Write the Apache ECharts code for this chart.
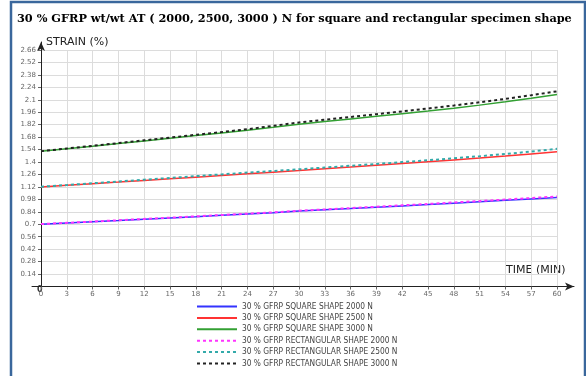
<!DOCTYPE html>
<html>
<head>
<meta charset="utf-8">
<script src="https://cdn.jsdelivr.net/npm/echarts@6/dist/echarts.min.js"></script>
<style>
html,body{margin:0;padding:0;background:#fff;}
#c{width:586px;height:376px;}
</style>
</head>
<body>
<div id="c"></div>
<script>
// time (min)
var times = [0,3,6,9,12,15,18,21,24,27,30,33,36,39,42,45,48,51,54,57,60];
// strain (%)
var sq2000 = [0.700,0.714,0.728,0.742,0.757,0.771,0.785,0.800,0.815,0.830,0.848,0.862,0.876,0.891,0.906,0.921,0.937,0.953,0.969,0.985,1.000];
var sq2500 = [1.120,1.138,1.156,1.174,1.193,1.211,1.230,1.248,1.267,1.286,1.305,1.325,1.344,1.364,1.384,1.404,1.424,1.444,1.467,1.491,1.515];
var sq3000 = [1.520,1.549,1.578,1.608,1.637,1.667,1.697,1.727,1.757,1.790,1.825,1.855,1.885,1.914,1.944,1.974,2.006,2.040,2.078,2.118,2.160];
var re2000 = [0.702,0.716,0.730,0.745,0.760,0.774,0.789,0.804,0.819,0.834,0.852,0.867,0.882,0.897,0.913,0.928,0.945,0.961,0.978,0.995,1.012];
var re2500 = [1.122,1.141,1.161,1.181,1.201,1.221,1.241,1.261,1.281,1.299,1.318,1.338,1.358,1.378,1.399,1.420,1.442,1.465,1.490,1.518,1.548];
var re3000 = [1.522,1.552,1.582,1.613,1.644,1.675,1.706,1.737,1.769,1.807,1.845,1.876,1.907,1.938,1.970,2.002,2.036,2.072,2.110,2.152,2.195];
var names = [
  '30 % GFRP SQUARE SHAPE 2000 N',
  '30 % GFRP SQUARE SHAPE 2500 N',
  '30 % GFRP SQUARE SHAPE 3000 N',
  '30 % GFRP RECTANGULAR SHAPE 2000 N',
  '30 % GFRP RECTANGULAR SHAPE 2500 N',
  '30 % GFRP RECTANGULAR SHAPE 3000 N'
];
var titleText = '30 % GFRP wt/wt AT ( 2000, 2500, 3000 ) N for square and rectangular specimen shape';

function pairs(v){ return times.map(function(t,i){ return [t, v[i]]; }); }
function mk(name, data, color, dashed){
  return {
    name: name, type: 'line', data: pairs(data), symbol: 'none', smooth: false,
    xAxisIndex: 0, yAxisIndex: 0,
    lineStyle: {color: color, width: dashed ? 2 : 1.5, type: dashed ? [3,3] : 'solid'},
    itemStyle: {color: color},
    z: dashed ? 3 : 2
  };
}
var chart = echarts.init(document.getElementById('c'), null, {renderer: 'canvas'});
var fmt = function(v){ return String(+v.toFixed(2)); };
chart.setOption({
  animation: false,
  backgroundColor: '#fff',
  title: {
    text: titleText, left: 12, top: 9,
    textStyle: {fontFamily: 'DejaVu Serif', fontWeight: 'bold', fontSize: 11.3, color: '#000'}
  },
  legend: {
    orient: 'vertical', left: 191, top: 297.5, itemWidth: 40, itemHeight: 9, itemGap: 3.4,
    itemStyle: {opacity: 0},
    textStyle: {fontSize: 8.3, color: '#444', fontFamily: 'DejaVu Sans Condensed, DejaVu Sans'},
    data: names
  },
  grid: [
    {left: 41, right: 29, top: 50, bottom: 89.5, containLabel: false},
    {left: 32, right: 12, top: 42, bottom: 89.5, containLabel: false}
  ],
  xAxis: [
    {type: 'value', gridIndex: 0, min: 0, max: 60, interval: 3,
     axisLine: {show: false}, axisTick: {show: true, length: 3, lineStyle: {color: '#666'}},
     axisLabel: {fontSize: 7, color: '#666', margin: 4, fontFamily: 'DejaVu Sans'},
     splitLine: {show: true, lineStyle: {color: '#dcdcdc', width: 1}}},
    {type: 'value', gridIndex: 1, min: 0, max: 1,
     axisLine: {show: true, symbol: ['none','arrow'], symbolSize: [6,9], lineStyle: {color: '#222', width: 1}},
     axisTick: {show: false}, axisLabel: {show: false}, splitLine: {show: false}}
  ],
  yAxis: [
    {type: 'value', gridIndex: 0, min: 0, max: 2.66, interval: 0.14,
     axisLine: {show: false}, axisTick: {show: true, length: 3, lineStyle: {color: '#666'}},
     axisLabel: {fontSize: 7, color: '#666', margin: 5, showMinLabel: false, formatter: fmt, fontFamily: 'DejaVu Sans'},
     splitLine: {show: true, lineStyle: {color: '#dcdcdc', width: 1}}},
    {type: 'value', gridIndex: 1, min: 0, max: 1, offset: -9,
     axisLine: {show: true, symbol: ['none','arrow'], symbolSize: [6,9], lineStyle: {color: '#222', width: 1}},
     axisTick: {show: false}, axisLabel: {show: false}, splitLine: {show: false}}
  ],
  series: [
    mk(names[0], sq2000, '#3333ff', false),
    mk(names[1], sq2500, '#ff3333', false),
    mk(names[2], sq3000, '#33a033', false),
    mk(names[3], re2000, '#ff33ff', true),
    mk(names[4], re2500, '#33aaaa', true),
    mk(names[5], re3000, '#222222', true)
  ],
  graphic: [
    {type: 'text', left: 46, top: 37, style: {text: 'STRAIN (%)', fontSize: 11, fontFamily: 'DejaVu Sans', fill: '#222'}},
    {type: 'text', left: 506, top: 265, style: {text: 'TIME (MIN)', fontSize: 11, fontFamily: 'DejaVu Sans', fill: '#222'}},
    {type: 'text', left: 37, top: 286, style: {text: '0', fontSize: 8, fontWeight: 'bold', fontFamily: 'DejaVu Sans', fill: '#333'}},
    {type: 'rect', shape: {x: 11, y: 2, width: 574, height: 390}, style: {fill: 'none', stroke: '#3a679c', lineWidth: 2.5}, z: 100}
  ]
});
</script>
</body>
</html>
